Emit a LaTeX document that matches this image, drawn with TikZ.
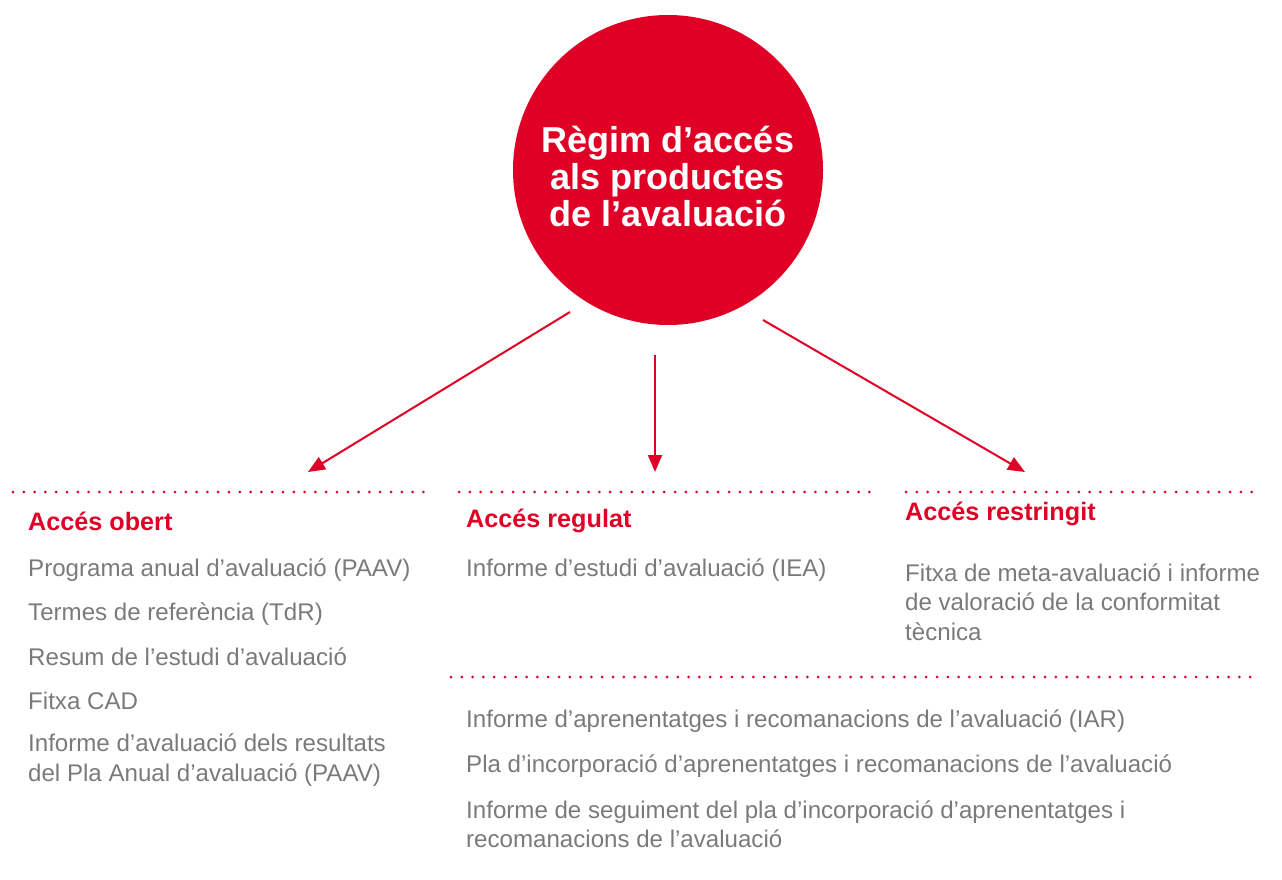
\documentclass[tikz,border=0pt]{standalone}
\usepackage{fontspec}
\setmainfont{Liberation Sans}
\usetikzlibrary{arrows.meta}
\definecolor{cred}{HTML}{E10025}
\definecolor{cgray}{HTML}{7A7A7A}
\tikzset{
  item/.style={anchor=west, inner sep=0pt, text=cgray, font=\fontsize{24.1}{29.5}\selectfont, align=left},
  head/.style={anchor=west, inner sep=0pt, text=cred, font=\fontsize{25.2}{28}\selectfont\bfseries},
  dotline/.style={cred, line width=3pt, line cap=round, dash pattern=on 0pt off 10.8pt},
  arr/.style={cred, line width=2pt, -{Triangle[length=17pt,width=14pt]}}
}
\begin{document}
\begin{tikzpicture}[x=1pt,y=-1pt]
\useasboundingbox (0,0) rectangle (1282,880);
\node[circle, fill=cred, minimum size=310pt, inner sep=0pt] (hub) at (668,170) {};
\node[text=white, align=center, inner sep=0pt,
  font=\fontsize{36}{37}\selectfont\bfseries] (title) at (668,176) {Règim d’accés\\als productes\\de l’avaluació};
% arrow endpoints
\coordinate (s1) at (570,312);
\coordinate (e1) at (308,472);
\coordinate (s2) at (655,355);
\coordinate (e2) at (655,472);
\coordinate (s3) at (763,320);
\coordinate (e3) at (1025,472);
\draw[arr] (s1) -- (e1);
\draw[arr] (s2) -- (e2);
\draw[arr] (s3) -- (e3);
% dotted lines
\coordinate (d1a) at (13,492); \coordinate (d1b) at (428,492);
\coordinate (d2a) at (459,492); \coordinate (d2b) at (873,492);
\coordinate (d3a) at (906,492); \coordinate (d3b) at (1255,492);
\coordinate (d4a) at (451,677); \coordinate (d4b) at (1255,677);
\draw[dotline] (d1a) -- (d1b);
\draw[dotline] (d2a) -- (d2b);
\draw[dotline] (d3a) -- (d3b);
\draw[dotline] (d4a) -- (d4b);
% headers
\node[head] (h1) at (28,521) {Accés obert};
\node[head] (h2) at (466,521) {Accés regulat};
\node[head] (h3) at (905,514) {Accés restringit};
% left column
\node[item] (a1) at (28,570) {Programa anual d’avaluació (PAAV)};
\node[item] (a2) at (28,614) {Termes de referència (TdR)};
\node[item] (a3) at (28,657) {Resum de l’estudi d’avaluació};
\node[item] (a4) at (28,701) {Fitxa CAD};
\node[item] (a5) at (28,760) {Informe d’avaluació dels resultats\\del Pla Anual d’avaluació (PAAV)};
% middle
\node[item] (b1) at (466,570) {Informe d’estudi d’avaluació (IEA)};
% right
\node[item] (c1) at (905,602) {Fitxa de meta-avaluació i informe\\de valoració de la conformitat\\tècnica};
% lower
\node[item] (l1) at (466,721) {Informe d’aprenentatges i recomanacions de l’avaluació (IAR)};
\node[item] (l2) at (466,766) {Pla d’incorporació d’aprenentatges i recomanacions de l’avaluació};
\node[item] (l3) at (466,824) {Informe de seguiment del pla d’incorporació d’aprenentatges i\\recomanacions de l’avaluació};
\end{tikzpicture}
\end{document}
